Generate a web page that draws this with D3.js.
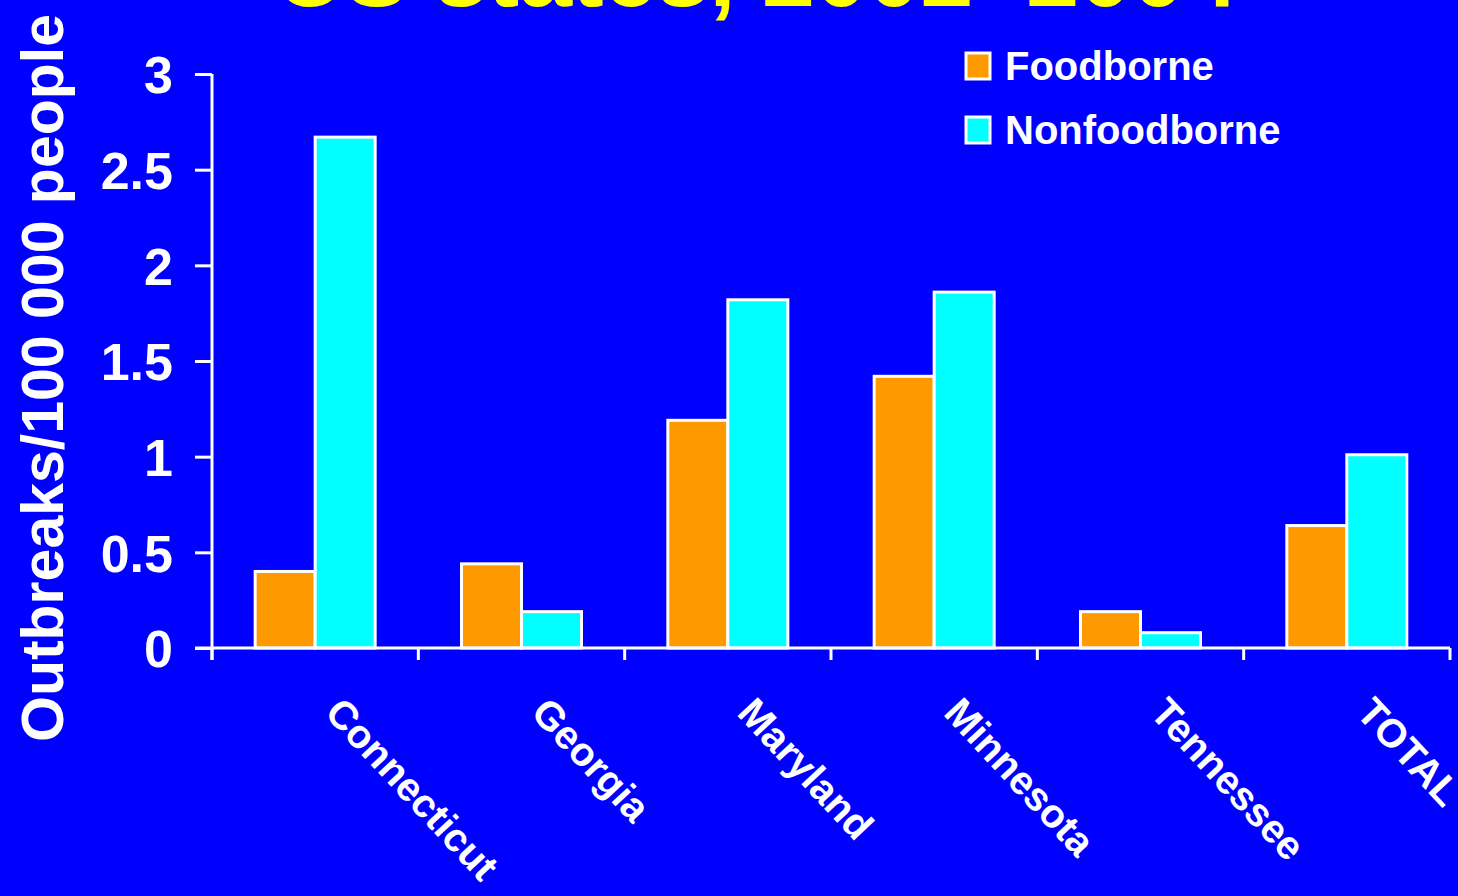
<!DOCTYPE html>
<html><head><meta charset="utf-8">
<script src="https://cdn.jsdelivr.net/npm/d3@7"></script>
<style>html,body{margin:0;padding:0;background:#0000FF;overflow:hidden}</style>
</head><body>
<script>
const categories = ["Connecticut","Georgia","Maryland","Minnesota","Tennessee","TOTAL"];
const seriesNames = ["Foodborne","Nonfoodborne"];
const foodborne = [0.40,0.44,1.19,1.42,0.19,0.64];
const nonfoodborne = [2.67,0.19,1.82,1.86,0.08,1.01];
const yTicks = [0,0.5,1,1.5,2,2.5,3];
const colors = ["#FF9900","#00FFFF"];
const titleText = "US states, 2002–2004";
const yTitle = "Outbreaks/100 000 people";

const W=1458,H=896;
const font="'Liberation Sans', Arial, sans-serif";
const svg=d3.select("body").append("svg").attr("width",W).attr("height",H)
  .style("font-family",font).style("font-weight","bold");
svg.append("rect").attr("width",W).attr("height",H).attr("fill","#0000FF");

const m={left:212,right:1450,top:74,bottom:648};
const x=d3.scaleBand().domain(categories).range([m.left,m.right]);
const xs=d3.scaleBand().domain(seriesNames).range([0,120]);
const y=d3.scaleLinear().domain([0,3]).range([m.bottom,m.top]);

// title
svg.append("text").attr("x",757).attr("y",6).attr("text-anchor","middle")
  .attr("fill","#FFFF00").attr("font-size",95).text(titleText);

// bars
const data=categories.map((c,i)=>({c,vals:[foodborne[i],nonfoodborne[i]]}));
const g=svg.append("g");
data.forEach(d=>{
  d.vals.forEach((v,j)=>{
    g.append("rect")
      .attr("x",x(d.c)+(x.bandwidth()-120)/2+xs(seriesNames[j]))
      .attr("y",y(v)).attr("width",xs.bandwidth()).attr("height",y(0)-y(v))
      .attr("fill",colors[j]).attr("stroke","#fff").attr("stroke-width",3);
  });
});

// y axis
const ya=svg.append("g").attr("transform",`translate(${m.left},0)`)
  .call(d3.axisLeft(y).tickValues(yTicks).tickSize(17).tickPadding(22).tickFormat(d3.format("")));
ya.select(".domain").remove();
ya.append("line").attr("x1",0).attr("x2",0).attr("y1",m.top).attr("y2",m.bottom+12)
  .attr("stroke","#fff").attr("stroke-width",3);
ya.selectAll(".tick line").attr("stroke","#fff").attr("stroke-width",3);
ya.selectAll(".tick text").attr("fill","#fff").attr("font-size",52)
  .attr("font-family",font).attr("font-weight","bold").attr("dy","0.36em");

// x axis
const xa=svg.append("g").attr("transform",`translate(0,${m.bottom})`);
xa.append("line").attr("x1",m.left-17).attr("x2",m.right).attr("stroke","#fff").attr("stroke-width",3);
const tickPos=categories.map(c=>x(c)).concat([m.right]);
xa.selectAll(".xt").data(tickPos).enter().append("line")
  .attr("x1",d=>d).attr("x2",d=>d).attr("y1",0).attr("y2",12)
  .attr("stroke","#fff").attr("stroke-width",3);
xa.selectAll(".xl").data(categories).enter().append("text")
  .attr("transform",d=>`translate(${x(d)+x.bandwidth()/2+8},${66}) rotate(47)`)
  .attr("fill","#fff").attr("font-size",40).text(d=>d);

// y title
svg.append("text").attr("transform",`translate(63,378) rotate(-90)`)
  .attr("text-anchor","middle").attr("fill","#fff").attr("font-size",59).text(yTitle);

// legend
const lg=svg.append("g");
seriesNames.forEach((s,i)=>{
  lg.append("rect").attr("x",966).attr("y",53+i*64).attr("width",24).attr("height",26)
    .attr("fill",colors[i]).attr("stroke","#fff").attr("stroke-width",3);
  lg.append("text").attr("x",1005).attr("y",80+i*64).attr("fill","#fff")
    .attr("font-size",40).text(s);
});
</script>
</body></html>
